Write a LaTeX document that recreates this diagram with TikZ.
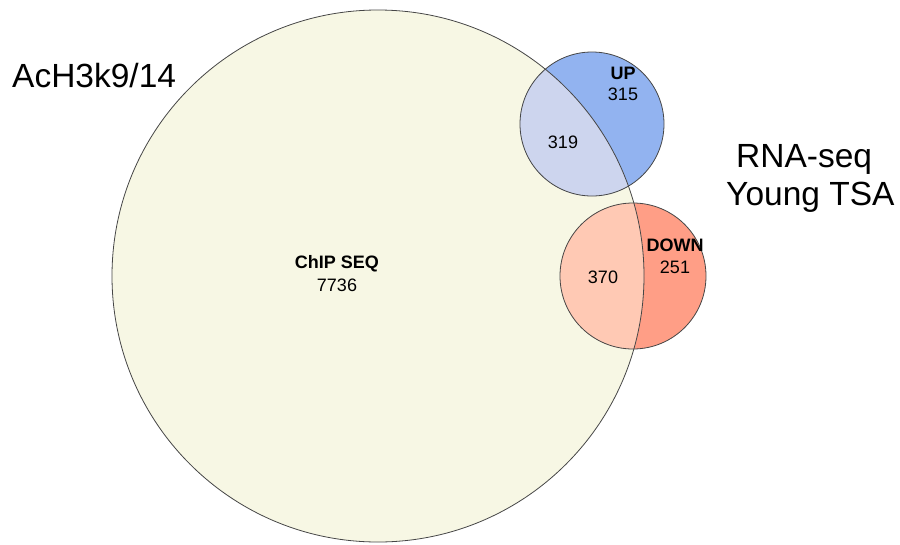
\documentclass[tikz,border=0pt]{standalone}
\usepackage{fontspec}
\setmainfont{Liberation Sans}
\usetikzlibrary{positioning}

\definecolor{chipfill}{RGB}{247,247,228}
\definecolor{upfill}{RGB}{146,179,240}
\definecolor{upshared}{RGB}{205,213,238}
\definecolor{downfill}{RGB}{255,158,134}
\definecolor{downshared}{RGB}{255,201,180}
\definecolor{rimline}{RGB}{70,70,70}

\begin{document}
\begin{tikzpicture}[x=1pt,y=-1pt,
    setdisc/.style={circle,inner sep=0pt,outer sep=0pt},
    setname/.style={font=\bfseries\fontsize{18}{21}\selectfont},
    setcount/.style={font=\fontsize{18}{21}\selectfont},
    sidelabel/.style={font=\fontsize{33.5}{38}\selectfont,anchor=base west,inner sep=0pt}
  ]
        % Define circle properties (pixels of the original)
        \def\chipr{266}
        \def\upr{72}
        \def\downr{73}

        % Page frame
        \useasboundingbox (0,0) rectangle (900,544);

        % The three sets
        \node[setdisc,fill=chipfill,minimum size=2*\chipr pt] (chip) at (378,276) {};
        \node[setdisc,fill=upfill,minimum size=2*\upr pt] (up) at (592,124) {};
        \node[setdisc,fill=downfill,minimum size=2*\downr pt] (down) at (633,276) {};

        % Shared parts
        \begin{scope}
            \clip (chip.center) circle[radius=\chipr pt];
            \fill[upshared] (up.center) circle[radius=\upr pt];
            \fill[downshared] (down.center) circle[radius=\downr pt];
        \end{scope}

        % Rims
        \draw[rimline,line width=0.8pt] (chip.center) circle[radius=\chipr pt];
        \draw[rimline,line width=0.8pt] (up.center) circle[radius=\upr pt];
        \draw[rimline,line width=0.8pt] (down.center) circle[radius=\downr pt];

        % Counts
        \node[setname] (chipname) at (337,264) {ChIP SEQ};
        \node[setcount,below=0pt of chipname] (chipcount) {7736};
        \node[setname] (upname) at (623,73) {UP};
        \node[setcount,below=2pt of upname] (upcount) {315};
        \node[setcount] (upboth) at (563,142) {319};
        \node[setname] (downname) at (675,245) {DOWN};
        \node[setcount,below=2pt of downname] (downcount) {251};
        \node[setcount] (downboth) at (603,277) {370};

        % Side labels
        \node[sidelabel] (chiplabel) at (12,87) {AcH3k9/14};
        \node[sidelabel] (rnalabel) at (736,167) {RNA-seq};
        \node[sidelabel] (younglabel) at (726,205) {Young TSA};
    \end{tikzpicture}
\end{document}
